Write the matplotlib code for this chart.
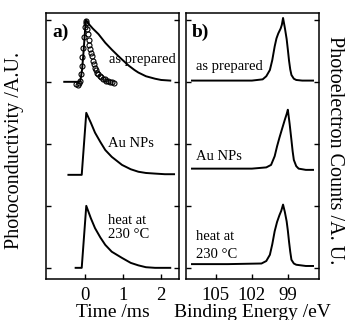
import matplotlib
matplotlib.use("Agg")
import matplotlib.pyplot as plt

plt.rcParams["font.family"] = ["Liberation Serif", "DejaVu Serif"]

# === a) photoconductivity transients (signal above baseline) ===
t_prep = [-0.55, -0.13, -0.08, -0.04, 0.0, 0.02, 0.1, 0.2, 0.35, 0.53, 0.7, 0.85,
          0.97, 1.15, 1.3, 1.4, 1.6, 1.84, 2.0, 2.24]
s_prep = [0.0, 0.0, 0.2, 0.5, 0.85, 1.0, 0.93, 0.86, 0.77, 0.63, 0.52, 0.43,
          0.36, 0.26, 0.19, 0.15, 0.09, 0.05, 0.03, 0.02]

# fast component (open circles)
t_fast = [-0.24, -0.2, -0.17, -0.14, -0.11, -0.09, -0.07, -0.05, -0.03, -0.01,
          0.01, 0.03, 0.05, 0.07, 0.09, 0.11, 0.13, 0.15, 0.17, 0.2, 0.23, 0.26,
          0.29, 0.32, 0.35, 0.39, 0.43, 0.47, 0.51, 0.56, 0.61, 0.66, 0.71, 0.76]
s_fast = [-0.03, -0.05, -0.02, 0.02, 0.12, 0.25, 0.4, 0.55, 0.72, 0.88,
          0.98, 0.95, 0.86, 0.77, 0.68, 0.6, 0.53, 0.47, 0.41, 0.34, 0.28, 0.23,
          0.19, 0.15, 0.12, 0.09, 0.07, 0.05, 0.04, 0.02, 0.01, 0.0, -0.01, -0.02]

t_au = [-0.44, -0.09, 0.03, 0.15, 0.26, 0.4, 0.53, 0.7, 0.97, 1.2, 1.4, 1.6,
        1.84, 2.1, 2.34]
s_au = [0.0, 0.0, 1.0, 0.84, 0.68, 0.53, 0.4, 0.29, 0.16, 0.09, 0.05, 0.03,
        0.02, 0.01, 0.01]

t_heat = [-0.25, -0.09, 0.03, 0.15, 0.26, 0.4, 0.53, 0.7, 0.97, 1.2, 1.4, 1.6,
          1.84, 2.24]
s_heat = [0.0, 0.0, 1.0, 0.8, 0.64, 0.49, 0.37, 0.26, 0.16, 0.08, 0.04, 0.01,
          0.0, 0.0]

# === b) Si 2p photoelectron spectra ===
e_prep = [107.0, 104.0, 102.0, 101.1, 100.8, 100.5, 100.3, 100.1, 99.95, 99.8,
          99.6, 99.5, 99.4, 99.25, 99.1, 99.0, 98.9, 98.8, 98.7, 98.5, 98.3,
          97.8, 96.9]
c_prep = [0.02, 0.02, 0.02, 0.04, 0.09, 0.19, 0.35, 0.57, 0.7, 0.78,
          0.86, 0.92, 1.03, 0.87, 0.69, 0.52, 0.34, 0.2, 0.11, 0.05, 0.03,
          0.02, 0.02]

e_au = [107.0, 104.0, 102.0, 100.8, 100.4, 100.1, 99.9, 99.7, 99.5, 99.25,
        99.1, 99.0, 98.85, 98.7, 98.6, 98.5, 98.3, 98.1, 97.5, 96.9]
c_au = [0.1, 0.1, 0.1, 0.12, 0.16, 0.3, 0.46, 0.6, 0.73, 0.89,
        0.98, 1.05, 0.82, 0.56, 0.38, 0.24, 0.14, 0.1, 0.08, 0.08]

e_heat = [107.0, 104.0, 101.2, 100.8, 100.5, 100.3, 100.1, 99.9, 99.7, 99.55,
          99.4, 99.25, 99.1, 99.0, 98.9, 98.8, 98.7, 98.5, 98.3, 97.5, 96.9]
c_heat = [0.06, 0.06, 0.07, 0.11, 0.21, 0.38, 0.59, 0.74, 0.85, 0.92,
          1.02, 0.9, 0.75, 0.6, 0.42, 0.26, 0.13, 0.07, 0.05, 0.03, 0.03]

offsets = {"prep": 3.0, "au": 1.5, "heat": 0.0}

fig = plt.figure(figsize=(3.49, 3.20), dpi=100)
W, H = 349, 320
top, bottom = 13, 279
axa = fig.add_axes([46 / W, 1 - bottom / H, (179 - 46) / W, (bottom - top) / H])
axb = fig.add_axes([186 / W, 1 - bottom / H, (319 - 186) / W, (bottom - top) / H])

lw = 1.4
axa.plot(t_prep, [v + offsets["prep"] for v in s_prep], color="black", lw=lw)
axa.plot(t_fast, [v + offsets["prep"] for v in s_fast], linestyle="none",
         marker="o", ms=3.6, mfc="none", mec="black", mew=0.8)
axa.plot(t_au, [v + offsets["au"] for v in s_au], color="black", lw=lw)
axa.plot(t_heat, [v + offsets["heat"] for v in s_heat], color="black", lw=lw)

axb.plot(e_prep, [v + offsets["prep"] for v in c_prep], color="black", lw=lw)
axb.plot(e_au, [v + offsets["au"] for v in c_au], color="black", lw=lw)
axb.plot(e_heat, [v + offsets["heat"] for v in c_heat], color="black", lw=lw)

for ax in (axa, axb):
    ax.set_ylim(-0.18, 4.11)
    ax.set_yticks([0, 1, 2, 3, 4])
    ax.tick_params(axis="both", direction="in", length=3.5, width=1.0,
                   labelsize=13.5, left=True, right=True, top=False,
                   labelleft=False, labelright=False)
    ax.tick_params(axis="x", pad=6)
    for sp in ax.spines.values():
        sp.set_linewidth(1.1)

axa.set_xlim(-1.03, 2.47)
axa.set_xticks([0, 1, 2])
axa.set_xlabel("Time /ms", fontsize=14, labelpad=0)

axb.set_xlim(107.5, 96.4)
axb.set_xticks([105, 102, 99])
axb.set_xlabel("Binding Energy /eV", fontsize=14, labelpad=0)

# y labels placed in figure pixels
fig.text(15 / W, 1 - 150 / H, "Photoconductivity /A.U.", fontsize=14.5,
         rotation=90, ha="center", va="center")
fig.text(335 / W, 1 - 150 / H, "Photoelectron Counts /A. U.", fontsize=14.5,
         rotation=270, ha="center", va="center")

fs = 10.5
axa.text(-0.86, 3.79, "a)", fontsize=14, fontweight="bold", va="center")
axa.text(0.64, 3.36, "as prepared", fontsize=fs, va="center")
axa.text(0.6, 2.0, "Au NPs", fontsize=fs, va="center")
axa.text(0.6, 0.77, "heat at", fontsize=fs, va="center")
axa.text(0.6, 0.53, "230 °C", fontsize=fs, va="center")

axb.text(107.0, 3.79, "b)", fontsize=14, fontweight="bold", va="center")
axb.text(106.7, 3.25, "as prepared", fontsize=fs, va="center")
axb.text(106.7, 1.8, "Au NPs", fontsize=fs, va="center")
axb.text(106.7, 0.5, "heat at", fontsize=fs, va="center")
axb.text(106.7, 0.22, "230 °C", fontsize=fs, va="center")

fig.savefig("out.png", dpi=100)
